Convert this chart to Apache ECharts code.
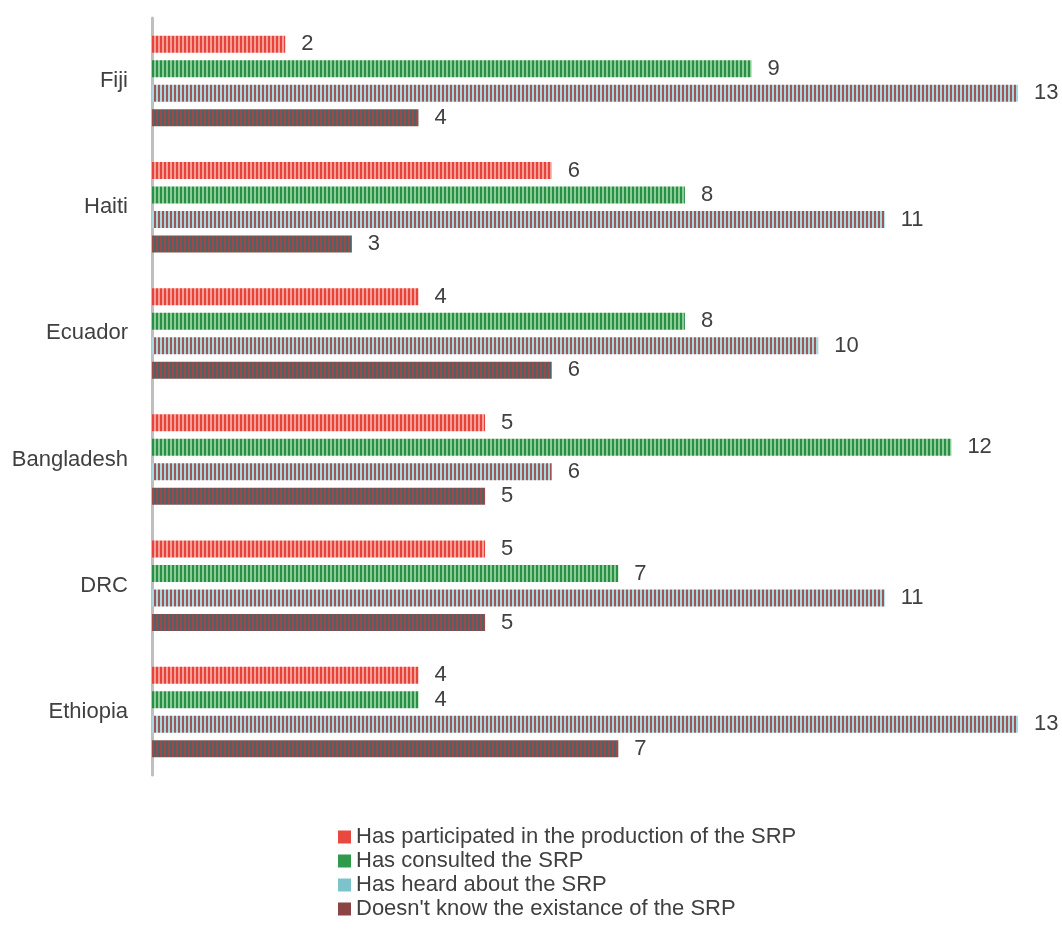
<!DOCTYPE html>
<html><head><meta charset="utf-8">
<script src="https://cdn.jsdelivr.net/npm/echarts@6/dist/echarts.min.js"></script>
<style>html,body{margin:0;padding:0;background:#fff}#c{width:1062px;height:940px}</style>
</head><body><div id="c"></div>
<script>
const categories = ['Fiji','Haiti','Ecuador','Bangladesh','DRC','Ethiopia'];
const seriesNames = ['Has participated in the production of the SRP','Has consulted the SRP','Has heard about the SRP',"Doesn't know the existance of the SRP"];
const participated = [2,6,4,5,5,4];
const consulted = [9,8,8,12,7,4];
const heard = [13,11,10,6,11,13];
const unknown = [4,3,6,5,5,7];

function stripe(a, b, wa, wb){
  const c = document.createElement('canvas');
  c.width = wa + wb; c.height = 4;
  const g = c.getContext('2d');
  g.fillStyle = a; g.fillRect(0,0,wa,4);
  g.fillStyle = b; g.fillRect(wa,0,wb,4);
  return {image: c, repeat: 'repeat'};
}
const fills = [
  stripe('#e8423a','#f4a09a',2,2),
  stripe('#2a8f44','#8ccc98',2,2),
  stripe('#a3dbe2','#a35454',2,2),
  stripe('#a04848','#4d6466',2,2)
];
const legendColors = ['#e8483f','#2e9a4a','#7cc3cc','#8b4444'];
const values = [participated, consulted, heard, unknown];
const FONT = 'Liberation Sans, Arial';

const chart = echarts.init(document.getElementById('c'), null, {renderer:'canvas'});
chart.setOption({
  animation:false,
  grid:{left:152,right:44,top:18,bottom:165,containLabel:false},
  xAxis:{type:'value',min:0,max:13,show:false},
  yAxis:{type:'category',data:categories,inverse:true,
    axisLine:{show:true,lineStyle:{color:'#bfbfbf',width:3}},
    axisTick:{show:false},
    axisLabel:{fontFamily:FONT,fontSize:22,color:'#404040',margin:24}},
  legend:{orient:'vertical',left:333,top:821,itemWidth:13,itemHeight:13,itemGap:2,
    textStyle:{fontFamily:FONT,fontSize:22,color:'#404040'},
    data:seriesNames.map((n,i)=>({name:n,icon:'rect',itemStyle:{color:legendColors[i]}}))},
  series: values.map((v,i)=>({
    name:seriesNames[i],type:'bar',data:v,barWidth:17,barGap:'44%',barCategoryGap:'28%',
    itemStyle:{color:fills[i]},
    label:{show:true,position:'right',distance:16,fontFamily:FONT,fontSize:22,color:'#404040'}
  }))
});
</script></body></html>
